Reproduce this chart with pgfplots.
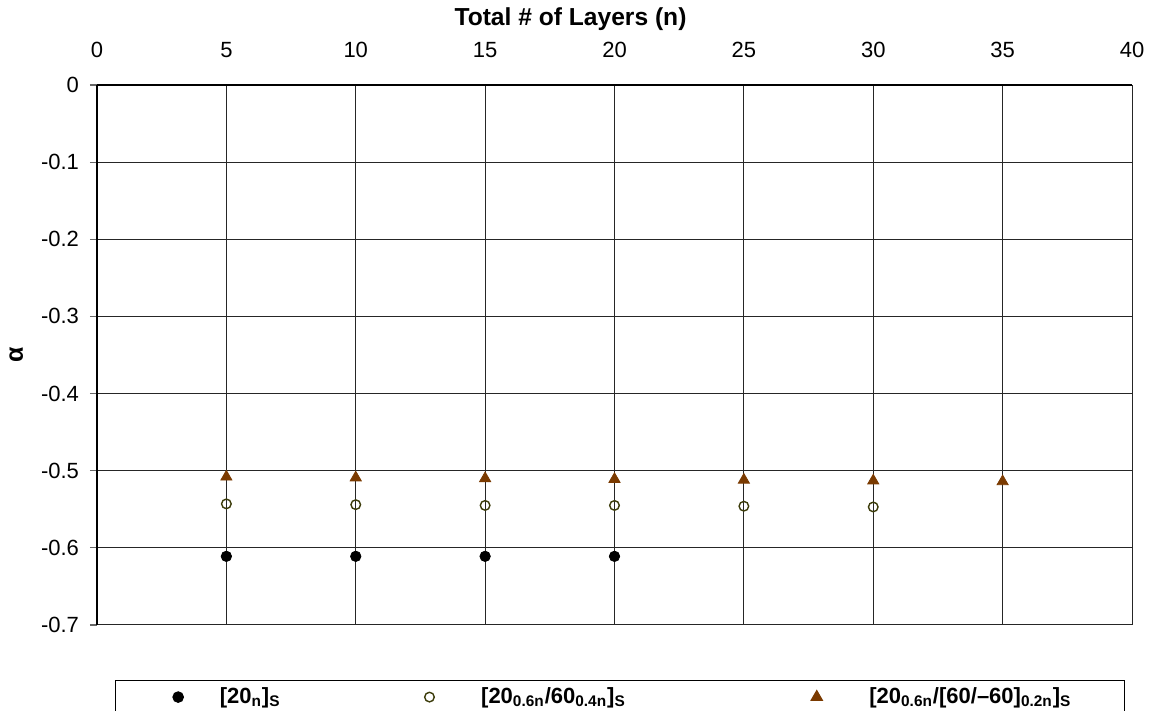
\documentclass[border=0pt]{standalone}
\usepackage{fontspec}
\setmainfont{Liberation Sans}
\usepackage{pgfplots}
\pgfplotsset{compat=1.18}
\definecolor{brownT}{RGB}{122,58,0}
\definecolor{oliveC}{RGB}{60,60,10}
\pgfplotsset{
  imgA/.style={legend image code/.code={\path (-31pt,0pt) (20.5pt,0pt); \draw[##1] plot coordinates {(0pt,0pt)};}},
  imgB/.style={legend image code/.code={\path (-10pt,0pt) (25.5pt,0pt); \draw[##1] plot coordinates {(0pt,0pt)};}},
  imgC/.style={legend image code/.code={\path (-10pt,0pt) (26pt,0pt); \draw[##1] plot coordinates {(0pt,0pt)};}},
}
\begin{document}
\begin{tikzpicture}
\useasboundingbox (-48.5pt,-43pt) rectangle (529.5pt,312.5pt);
\clip (-48.5pt,-43pt) rectangle (529.5pt,312.5pt);
\begin{axis}[
  scale only axis,
  width=517.5pt, height=270pt,
  at={(0,0)}, anchor=south west,
  xmin=0, xmax=40, ymin=-0.7, ymax=0,
  xtick={0,5,...,40},
  ytick={-0.7,-0.6,...,0},
  yticklabels={-0.7,-0.6,-0.5,-0.4,-0.3,-0.2,-0.1,0},
  axis x line*=top,
  axis line style={line width=0.9pt},
  axis y line*=left,
  xmajorgrids, ymajorgrids,
  grid style={black!85, line width=0.5pt},
  x tick style={draw=none},
  y tick style={black!60, line width=0.6pt},
  tick align=outside,
  major tick length=3.5pt,
  /pgf/number format/assume math mode=true,
  tick label style={font=\fontsize{11}{13}\selectfont},
  xticklabel style={yshift=6.5pt},
  yticklabel style={xshift=-2pt},
  xlabel={\textbf{Total \# of Layers (n)}},
  xlabel style={font=\fontsize{12.3}{14}\selectfont, yshift=-1pt, xshift=-22pt},
  ylabel={\textbf{α}},
  every axis y label/.style={at={(ticklabel cs:0.5)}, rotate=90, anchor=center, yshift=9pt, font=\fontsize{12.5}{14}\selectfont},
  legend columns=3,
  legend style={
    at={(0.01736,-0.1019)}, anchor=north west,
    draw=black, line width=0.6pt,
    font=\fontsize{11}{13}\selectfont,
    inner xsep=0pt, inner ysep=1pt,
    nodes={inner xsep=0pt, inner ysep=2.5pt},
    /tikz/every even column/.append style={column sep=0pt},
    /tikz/every odd column/.append style={column sep=0pt},
  },
  legend cell align=left,
]
\addplot[only marks, mark=*, mark size=2.6pt, draw=black, fill=black, imgA]
  coordinates {(5,-0.611) (10,-0.611) (15,-0.611) (20,-0.611)};
\addlegendentry{\makebox[94.5pt][l]{\bfseries[20\textsubscript{n}]\textsubscript{S}}}
\addplot[only marks, mark=o, mark size=2.4pt, draw=oliveC, fill=white, line width=0.7pt, imgB]
  coordinates {(5,-0.543) (10,-0.544) (15,-0.545) (20,-0.545) (25,-0.546) (30,-0.547)};
\addlegendentry{\makebox[157.5pt][l]{\bfseries[20\textsubscript{0.6n}/60\textsubscript{0.4n}]\textsubscript{S}}}
\addplot[only marks, mark=triangle*, mark size=3.2pt, draw=brownT, fill=brownT, imgC]
  coordinates {(5,-0.508) (10,-0.509) (15,-0.510) (20,-0.511) (25,-0.512) (30,-0.513) (35,-0.514)};
\addlegendentry{\makebox[127.5pt][l]{\bfseries[20\textsubscript{0.6n}/[60/–60]\textsubscript{0.2n}]\textsubscript{S}}}
\end{axis}
\end{tikzpicture}
\end{document}
